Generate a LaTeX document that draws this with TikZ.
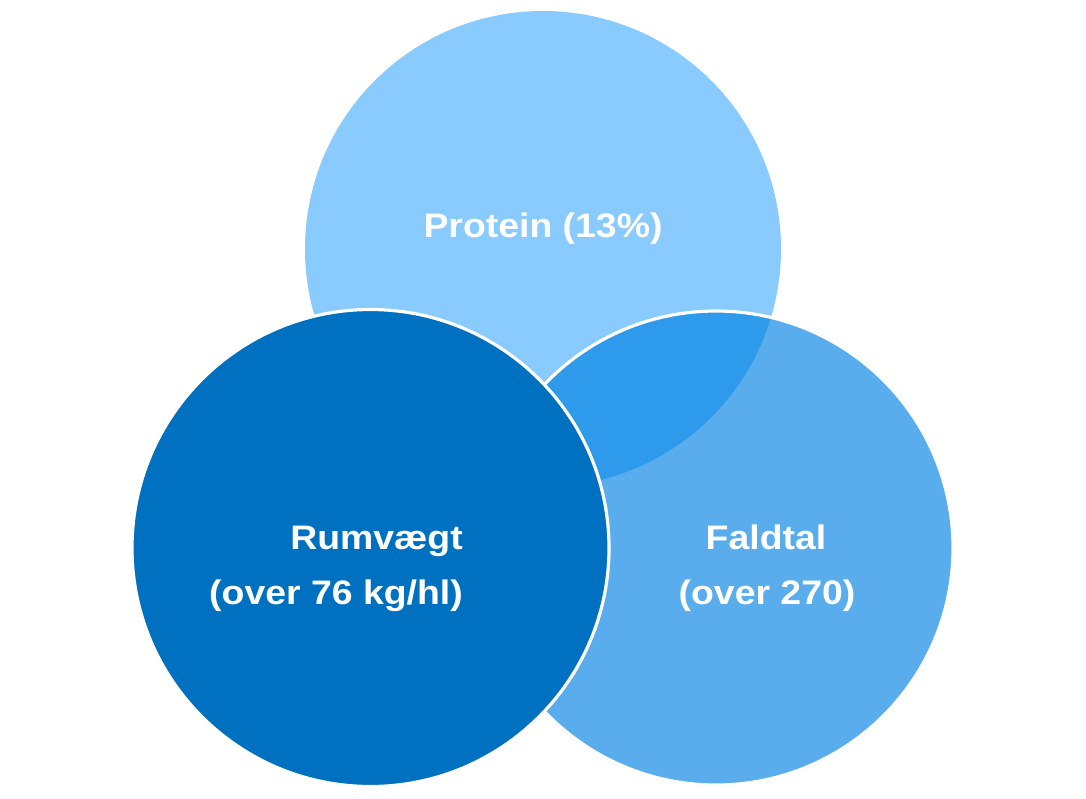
\documentclass[tikz,border=0pt]{standalone}
\usepackage{fontspec}
\setmainfont{Liberation Sans}[FakeStretch=1.1]
\definecolor{ctop}{HTML}{89CAFF}
\definecolor{cright}{HTML}{59ADED}
\definecolor{cover}{HTML}{2E9AEC}
\definecolor{cleft}{HTML}{0070C0}
\tikzset{
  lbl/.style={text=white, font=\fontsize{34}{40}\selectfont\bfseries, inner sep=0pt},
  rim/.style={draw=white, line width=3.2pt}
}
\begin{document}
\begin{tikzpicture}[x=1pt,y=-1pt]
\path[use as bounding box, fill=white] (0,0) rectangle (1086,798);
\coordinate (ct) at (543,249);
\coordinate (cr) at (716,548);
\coordinate (cl) at (370.5,548);
% top circle
\fill[ctop] (ct) circle[radius=238];
% right circle
\fill[cright] (cr) circle[radius=237];
% overlap
\begin{scope}
  \clip (cr) circle[radius=237];
  \fill[cover] (ct) circle[radius=238];
\end{scope}
\draw[rim] (cr) circle[radius=237];
% left circle
\fill[cleft] (cl) circle[radius=238.5];
\draw[rim] (cl) circle[radius=238.5];
% labels
\node[lbl, anchor=base] (tp) at (543,237) {Protein (13\%)};
\node[lbl, anchor=base east] (l1) at (463,549) {Rumvægt};
\node[lbl, anchor=base east] (l2) at (463,604) {(over 76 kg/hl)};
\node[lbl, anchor=base] (r1) at (766,549) {Faldtal};
\node[lbl, anchor=base] (r2) at (767,604) {(over 270)};
\end{tikzpicture}
\end{document}
